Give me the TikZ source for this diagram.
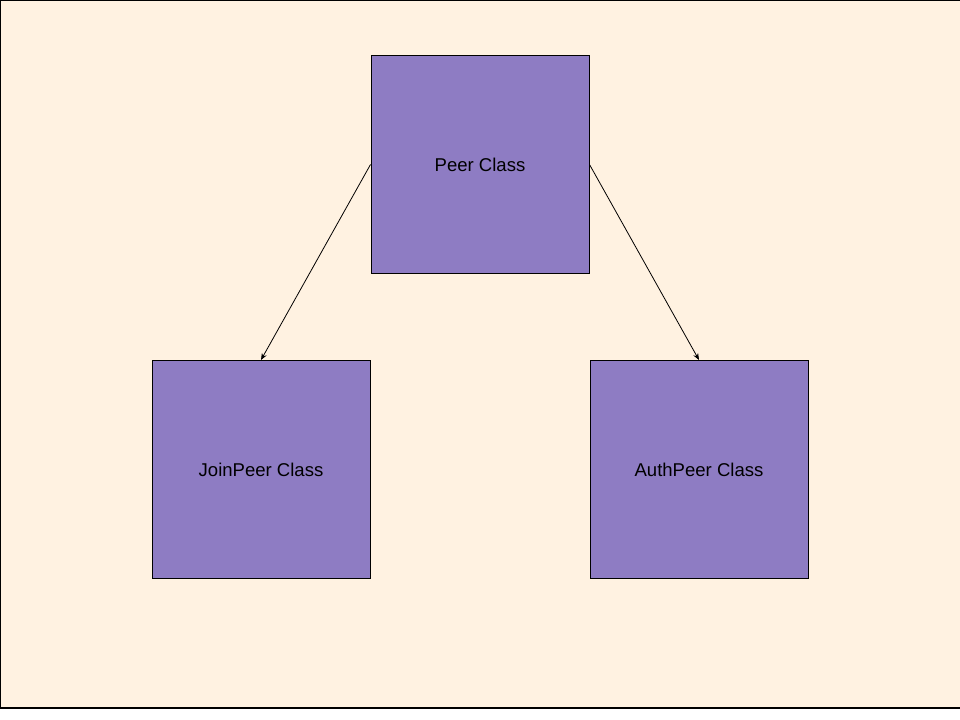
\documentclass[tikz,border=0pt]{standalone}
\usepackage{fontspec}
\setmainfont{Liberation Sans}
\usetikzlibrary{arrows.meta}
\definecolor{bgc}{HTML}{FFF2E1}
\definecolor{boxc}{HTML}{8E7CC3}
\tikzset{
  classbox/.style={draw=black, fill=boxc, line width=0.75pt, minimum width=163.5pt, minimum height=163.5pt, inner sep=0pt, font=\fontsize{13.9}{16}\selectfont},
  link/.style={draw=black, line width=0.6pt, -{Stealth[length=5pt,width=4pt]}}
}
\begin{document}
\begin{tikzpicture}[x=0.75pt,y=-0.75pt]
\useasboundingbox (0,0) rectangle (960,720);
\fill[white] (0,0) rectangle (960,720);
\draw[fill=bgc, line width=1.2pt] (0.5,0.5) rectangle (960.5,708);
\node[classbox] (peer) at (480,164.5) {\raisebox{-1pt}{Peer Class}};
\node[classbox] (join) at (261,469.5) {\raisebox{-1pt}{JoinPeer Class}};
\node[classbox] (auth) at (699,469.5) {\raisebox{-1pt}{AuthPeer Class}};
\draw[link] (peer.west) -- (join.north);
\draw[link] (peer.east) -- (auth.north);
\end{tikzpicture}
\end{document}
